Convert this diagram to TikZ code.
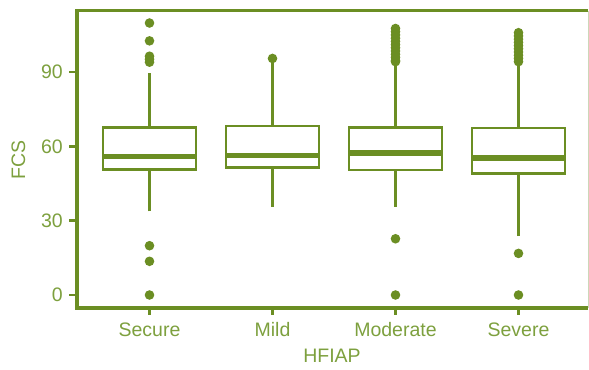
\documentclass[tikz,border=0pt]{standalone}
\usepackage{fontspec}
\setmainfont{Liberation Sans}
\definecolor{fcsline}{RGB}{107,142,35}
\definecolor{fcstext}{RGB}{125,160,62}
\definecolor{fcsedge}{RGB}{205,215,185}
% one box: x, lower whisker, Q1, median, Q3, upper whisker
\newcommand{\fcsbox}[6]{%
    \draw[whisker] (#1,#2) -- (#1,#3) (#1,#5) -- (#1,#6);
    \draw[box] (#1-46.5,#3) rectangle (#1+46.5,#5);
    \draw[median] (#1-46.5,#4) -- (#1+46.5,#4);
}
\begin{document}
\begin{tikzpicture}[x=1bp, y=2.477bp,
        every node/.style={text=fcstext, font=\fontsize{19.5bp}{23bp}\selectfont},
        frame/.style={draw=fcsline, line width=3.1bp},
        tick/.style={draw=fcsline, line width=2.4bp},
        box/.style={draw=fcsline, line width=2.7bp, fill=white},
        whisker/.style={draw=fcsline, line width=2.7bp},
        median/.style={draw=fcsline, line width=5.2bp},
        outlier/.style={fill=fcsline}]
    \useasboundingbox (0,-75bp) rectangle (589bp,295bp);
    % panel
    \draw[fcsedge, line width=0.8bp] (588,114.7) -- (588,-5.25);
    \draw[frame] (588,114.7) -- (77,114.7) -- (77,-5.25) -- (588,-5.25);
    % y axis
    \foreach \v in {0,30,60,90} {
        \draw[tick] (69,\v) -- (77,\v);
        \node[anchor=east, inner sep=0pt] (ylab-\v) at (63,\v) {\v};
    }
    \node[rotate=90, anchor=base, inner sep=0pt] (ytitle) at (25,54.5) {FCS};
    % x axis
    \foreach \x/\lab in {149.5/Secure, 272.5/Mild, 395.5/Moderate, 518.5/Severe} {
        \draw[tick] (\x,-5.25) -- (\x,-8.2);
        \node[anchor=base, inner sep=0pt] (xlab-\lab) at (\x,-16.6) {\lab};
    }
    \node[anchor=base, inner sep=0pt] (xtitle) at (332,-27.4) {HFIAP};
    % boxes
    \fcsbox{149.5}{33.8}{50.6}{55.8}{67.7}{89.8}
    \fcsbox{272.5}{35.6}{51.5}{56.4}{68.2}{94}
    \fcsbox{395.5}{35.6}{50.5}{57.3}{67.7}{92.6}
    \fcsbox{518.5}{23.8}{49}{55.3}{67.4}{92.6}
    % outliers
    \foreach \v in {109.8,102.6,96.4,95.2,94,19.9,13.6,0}
        \fill[outlier] (149.5,\v) circle[radius=4.8bp];
    \fill[outlier] (272.5,95.5) circle[radius=4.8bp];
    \foreach \v in {107.6,106.3,105,103.7,102.4,101.1,99.8,98.5,97.2,95.9,94.6,94.2,22.7,0}
        \fill[outlier] (395.5,\v) circle[radius=4.8bp];
    \foreach \v in {105.9,104.6,103.3,102,100.7,99.4,98.1,96.8,95.5,94.2,16.8,0}
        \fill[outlier] (518.5,\v) circle[radius=4.8bp];
\end{tikzpicture}
\end{document}
